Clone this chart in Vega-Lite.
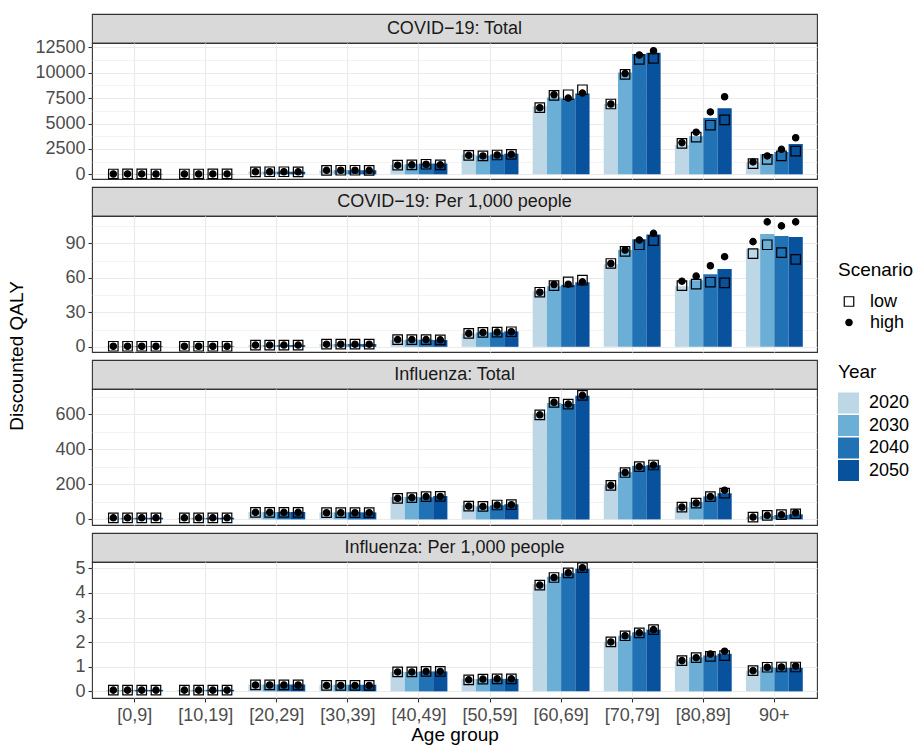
{
  "$schema": "https://vega.github.io/schema/vega-lite/v6.json",
  "padding": {"left": 0, "top": 13, "right": 0, "bottom": 0},
  "config": {
    "font": "Liberation Sans",
    "view": {"stroke": "#333333", "strokeWidth": 1.1},
    "axis": {"domain": false, "labelFontSize": 18, "labelColor": "#4d4d4d", "labelFont": "Liberation Sans", "tickColor": "#333333", "tickSize": 4, "tickWidth": 1.1, "gridColor": "#ebebeb", "gridWidth": 1.2, "titleFontSize": 19, "titleFontWeight": "normal", "titleColor": "#000000", "titleFont": "Liberation Sans", "labelPadding": 3},
    "legend": {"titleFontSize": 19, "titleFontWeight": "normal", "titleColor": "#000000", "labelFontSize": 18, "labelColor": "#000000", "padding": 0, "titleFont": "Liberation Sans", "labelFont": "Liberation Sans"},
    "text": {"font": "Liberation Sans"}
  },
  "datasets": {
    "d": [
      {"m":"ct","a":"[0,9]","y":"2020","v":35,"low":35,"high":35},
      {"m":"ct","a":"[0,9]","y":"2030","v":40,"low":40,"high":40},
      {"m":"ct","a":"[0,9]","y":"2040","v":40,"low":40,"high":40},
      {"m":"ct","a":"[0,9]","y":"2050","v":35,"low":35,"high":35},
      {"m":"ct","a":"[10,19]","y":"2020","v":35,"low":35,"high":35},
      {"m":"ct","a":"[10,19]","y":"2030","v":35,"low":35,"high":35},
      {"m":"ct","a":"[10,19]","y":"2040","v":40,"low":40,"high":40},
      {"m":"ct","a":"[10,19]","y":"2050","v":40,"low":40,"high":40},
      {"m":"ct","a":"[20,29]","y":"2020","v":260,"low":250,"high":250},
      {"m":"ct","a":"[20,29]","y":"2030","v":260,"low":255,"high":255},
      {"m":"ct","a":"[20,29]","y":"2040","v":260,"low":255,"high":255},
      {"m":"ct","a":"[20,29]","y":"2050","v":250,"low":245,"high":245},
      {"m":"ct","a":"[30,39]","y":"2020","v":400,"low":390,"high":390},
      {"m":"ct","a":"[30,39]","y":"2030","v":410,"low":400,"high":400},
      {"m":"ct","a":"[30,39]","y":"2040","v":410,"low":400,"high":400},
      {"m":"ct","a":"[30,39]","y":"2050","v":400,"low":395,"high":395},
      {"m":"ct","a":"[40,49]","y":"2020","v":930,"low":900,"high":900},
      {"m":"ct","a":"[40,49]","y":"2030","v":1000,"low":930,"high":930},
      {"m":"ct","a":"[40,49]","y":"2040","v":1060,"low":990,"high":990},
      {"m":"ct","a":"[40,49]","y":"2050","v":1060,"low":930,"high":930},
      {"m":"ct","a":"[50,59]","y":"2020","v":1940,"low":1870,"high":1870},
      {"m":"ct","a":"[50,59]","y":"2030","v":1840,"low":1810,"high":1810},
      {"m":"ct","a":"[50,59]","y":"2040","v":1940,"low":1900,"high":1900},
      {"m":"ct","a":"[50,59]","y":"2050","v":2030,"low":1970,"high":1970},
      {"m":"ct","a":"[60,69]","y":"2020","v":6690,"low":6560,"high":6560},
      {"m":"ct","a":"[60,69]","y":"2030","v":7570,"low":7760,"high":7830},
      {"m":"ct","a":"[60,69]","y":"2040","v":7470,"low":7830,"high":7500},
      {"m":"ct","a":"[60,69]","y":"2050","v":7960,"low":8320,"high":7990},
      {"m":"ct","a":"[70,79]","y":"2020","v":6920,"low":6920,"high":6920},
      {"m":"ct","a":"[70,79]","y":"2030","v":10010,"low":9830,"high":9910},
      {"m":"ct","a":"[70,79]","y":"2040","v":11830,"low":11310,"high":11740},
      {"m":"ct","a":"[70,79]","y":"2050","v":11960,"low":11410,"high":12160},
      {"m":"ct","a":"[80,89]","y":"2020","v":2880,"low":3040,"high":3110},
      {"m":"ct","a":"[80,89]","y":"2030","v":3760,"low":3660,"high":4150},
      {"m":"ct","a":"[80,89]","y":"2040","v":5550,"low":4830,"high":6140},
      {"m":"ct","a":"[80,89]","y":"2050","v":6490,"low":5350,"high":7630},
      {"m":"ct","a":"90+","y":"2020","v":1160,"low":1060,"high":1220},
      {"m":"ct","a":"90+","y":"2030","v":1970,"low":1480,"high":1810},
      {"m":"ct","a":"90+","y":"2040","v":2200,"low":1810,"high":2460},
      {"m":"ct","a":"90+","y":"2050","v":2980,"low":2290,"high":3600},

      {"m":"cp","a":"[0,9]","y":"2020","v":0.5,"low":0.5,"high":0.5},
      {"m":"cp","a":"[0,9]","y":"2030","v":0.5,"low":0.5,"high":0.5},
      {"m":"cp","a":"[0,9]","y":"2040","v":0.5,"low":0.5,"high":0.5},
      {"m":"cp","a":"[0,9]","y":"2050","v":0.5,"low":0.5,"high":0.5},
      {"m":"cp","a":"[10,19]","y":"2020","v":0.5,"low":0.5,"high":0.5},
      {"m":"cp","a":"[10,19]","y":"2030","v":0.5,"low":0.5,"high":0.5},
      {"m":"cp","a":"[10,19]","y":"2040","v":0.5,"low":0.5,"high":0.5},
      {"m":"cp","a":"[10,19]","y":"2050","v":0.5,"low":0.5,"high":0.5},
      {"m":"cp","a":"[20,29]","y":"2020","v":1.5,"low":1.5,"high":1.5},
      {"m":"cp","a":"[20,29]","y":"2030","v":1.5,"low":1.5,"high":1.5},
      {"m":"cp","a":"[20,29]","y":"2040","v":1.5,"low":1.5,"high":1.5},
      {"m":"cp","a":"[20,29]","y":"2050","v":1.5,"low":1.5,"high":1.5},
      {"m":"cp","a":"[30,39]","y":"2020","v":2.4,"low":2.3,"high":2.3},
      {"m":"cp","a":"[30,39]","y":"2030","v":2.4,"low":2.3,"high":2.3},
      {"m":"cp","a":"[30,39]","y":"2040","v":2.4,"low":2.3,"high":2.3},
      {"m":"cp","a":"[30,39]","y":"2050","v":2.4,"low":2.3,"high":2.3},
      {"m":"cp","a":"[40,49]","y":"2020","v":6.0,"low":6.3,"high":6.3},
      {"m":"cp","a":"[40,49]","y":"2030","v":6.2,"low":6.3,"high":6.3},
      {"m":"cp","a":"[40,49]","y":"2040","v":6.2,"low":6.3,"high":6.3},
      {"m":"cp","a":"[40,49]","y":"2050","v":5.9,"low":6.1,"high":6.1},
      {"m":"cp","a":"[50,59]","y":"2020","v":11.4,"low":11.7,"high":11.7},
      {"m":"cp","a":"[50,59]","y":"2030","v":12.5,"low":12.5,"high":12.5},
      {"m":"cp","a":"[50,59]","y":"2040","v":12.5,"low":12.8,"high":12.8},
      {"m":"cp","a":"[50,59]","y":"2050","v":13.4,"low":13.1,"high":13.1},
      {"m":"cp","a":"[60,69]","y":"2020","v":48.4,"low":47.5,"high":47.5},
      {"m":"cp","a":"[60,69]","y":"2030","v":52.7,"low":53.3,"high":54.2},
      {"m":"cp","a":"[60,69]","y":"2040","v":53.9,"low":56.5,"high":54.5},
      {"m":"cp","a":"[60,69]","y":"2050","v":56.2,"low":58.0,"high":56.5},
      {"m":"cp","a":"[70,79]","y":"2020","v":71.9,"low":72.5,"high":72.5},
      {"m":"cp","a":"[70,79]","y":"2030","v":84.2,"low":83.0,"high":84.2},
      {"m":"cp","a":"[70,79]","y":"2040","v":93.5,"low":88.8,"high":92.9},
      {"m":"cp","a":"[70,79]","y":"2050","v":97.6,"low":92.3,"high":98.7},
      {"m":"cp","a":"[80,89]","y":"2020","v":52.7,"low":53.3,"high":57.1},
      {"m":"cp","a":"[80,89]","y":"2030","v":58.0,"low":54.5,"high":61.5},
      {"m":"cp","a":"[80,89]","y":"2040","v":63.2,"low":56.2,"high":70.5},
      {"m":"cp","a":"[80,89]","y":"2050","v":67.6,"low":55.6,"high":78.4},
      {"m":"cp","a":"90+","y":"2020","v":85.1,"low":81.0,"high":91.5},
      {"m":"cp","a":"90+","y":"2030","v":98.2,"low":88.8,"high":108.7},
      {"m":"cp","a":"90+","y":"2040","v":96.4,"low":81.9,"high":105.2},
      {"m":"cp","a":"90+","y":"2050","v":95.5,"low":76.0,"high":108.7},

      {"m":"it","a":"[0,9]","y":"2020","v":9,"low":9,"high":9},
      {"m":"it","a":"[0,9]","y":"2030","v":9,"low":9,"high":9},
      {"m":"it","a":"[0,9]","y":"2040","v":9,"low":9,"high":9},
      {"m":"it","a":"[0,9]","y":"2050","v":9,"low":9,"high":9},
      {"m":"it","a":"[10,19]","y":"2020","v":9,"low":9,"high":9},
      {"m":"it","a":"[10,19]","y":"2030","v":9,"low":9,"high":9},
      {"m":"it","a":"[10,19]","y":"2040","v":9,"low":9,"high":9},
      {"m":"it","a":"[10,19]","y":"2050","v":9,"low":9,"high":9},
      {"m":"it","a":"[20,29]","y":"2020","v":42,"low":40,"high":40},
      {"m":"it","a":"[20,29]","y":"2030","v":42,"low":40,"high":40},
      {"m":"it","a":"[20,29]","y":"2040","v":42,"low":40,"high":40},
      {"m":"it","a":"[20,29]","y":"2050","v":42,"low":40,"high":40},
      {"m":"it","a":"[30,39]","y":"2020","v":40,"low":38,"high":38},
      {"m":"it","a":"[30,39]","y":"2030","v":40,"low":38,"high":38},
      {"m":"it","a":"[30,39]","y":"2040","v":40,"low":38,"high":38},
      {"m":"it","a":"[30,39]","y":"2050","v":40,"low":38,"high":38},
      {"m":"it","a":"[40,49]","y":"2020","v":128,"low":120,"high":120},
      {"m":"it","a":"[40,49]","y":"2030","v":128,"low":124,"high":124},
      {"m":"it","a":"[40,49]","y":"2040","v":126,"low":130,"high":130},
      {"m":"it","a":"[40,49]","y":"2050","v":133,"low":131,"high":131},
      {"m":"it","a":"[50,59]","y":"2020","v":80,"low":76,"high":76},
      {"m":"it","a":"[50,59]","y":"2030","v":74,"low":74,"high":74},
      {"m":"it","a":"[50,59]","y":"2040","v":80,"low":82,"high":82},
      {"m":"it","a":"[50,59]","y":"2050","v":86,"low":84,"high":84},
      {"m":"it","a":"[60,69]","y":"2020","v":604,"low":596,"high":596},
      {"m":"it","a":"[60,69]","y":"2030","v":663,"low":667,"high":667},
      {"m":"it","a":"[60,69]","y":"2040","v":657,"low":657,"high":657},
      {"m":"it","a":"[60,69]","y":"2050","v":705,"low":707,"high":707},
      {"m":"it","a":"[70,79]","y":"2020","v":194,"low":194,"high":194},
      {"m":"it","a":"[70,79]","y":"2030","v":269,"low":267,"high":267},
      {"m":"it","a":"[70,79]","y":"2040","v":305,"low":301,"high":301},
      {"m":"it","a":"[70,79]","y":"2050","v":309,"low":310,"high":310},
      {"m":"it","a":"[80,89]","y":"2020","v":70,"low":70,"high":70},
      {"m":"it","a":"[80,89]","y":"2030","v":99,"low":93,"high":93},
      {"m":"it","a":"[80,89]","y":"2040","v":131,"low":130,"high":130},
      {"m":"it","a":"[80,89]","y":"2050","v":149,"low":150,"high":166},
      {"m":"it","a":"90+","y":"2020","v":13,"low":13,"high":13},
      {"m":"it","a":"90+","y":"2030","v":19,"low":23,"high":23},
      {"m":"it","a":"90+","y":"2040","v":25,"low":27,"high":27},
      {"m":"it","a":"90+","y":"2050","v":29,"low":32,"high":38},

      {"m":"ip","a":"[0,9]","y":"2020","v":0.06,"low":0.05,"high":0.05},
      {"m":"ip","a":"[0,9]","y":"2030","v":0.06,"low":0.05,"high":0.05},
      {"m":"ip","a":"[0,9]","y":"2040","v":0.06,"low":0.05,"high":0.05},
      {"m":"ip","a":"[0,9]","y":"2050","v":0.06,"low":0.05,"high":0.05},
      {"m":"ip","a":"[10,19]","y":"2020","v":0.06,"low":0.05,"high":0.05},
      {"m":"ip","a":"[10,19]","y":"2030","v":0.06,"low":0.05,"high":0.05},
      {"m":"ip","a":"[10,19]","y":"2040","v":0.06,"low":0.05,"high":0.05},
      {"m":"ip","a":"[10,19]","y":"2050","v":0.06,"low":0.05,"high":0.05},
      {"m":"ip","a":"[20,29]","y":"2020","v":0.28,"low":0.26,"high":0.26},
      {"m":"ip","a":"[20,29]","y":"2030","v":0.28,"low":0.26,"high":0.26},
      {"m":"ip","a":"[20,29]","y":"2040","v":0.28,"low":0.26,"high":0.26},
      {"m":"ip","a":"[20,29]","y":"2050","v":0.28,"low":0.26,"high":0.26},
      {"m":"ip","a":"[30,39]","y":"2020","v":0.27,"low":0.24,"high":0.24},
      {"m":"ip","a":"[30,39]","y":"2030","v":0.27,"low":0.24,"high":0.24},
      {"m":"ip","a":"[30,39]","y":"2040","v":0.27,"low":0.24,"high":0.24},
      {"m":"ip","a":"[30,39]","y":"2050","v":0.27,"low":0.24,"high":0.24},
      {"m":"ip","a":"[40,49]","y":"2020","v":0.79,"low":0.79,"high":0.79},
      {"m":"ip","a":"[40,49]","y":"2030","v":0.79,"low":0.79,"high":0.79},
      {"m":"ip","a":"[40,49]","y":"2040","v":0.81,"low":0.81,"high":0.81},
      {"m":"ip","a":"[40,49]","y":"2050","v":0.81,"low":0.81,"high":0.81},
      {"m":"ip","a":"[50,59]","y":"2020","v":0.51,"low":0.47,"high":0.47},
      {"m":"ip","a":"[50,59]","y":"2030","v":0.50,"low":0.50,"high":0.50},
      {"m":"ip","a":"[50,59]","y":"2040","v":0.51,"low":0.51,"high":0.51},
      {"m":"ip","a":"[50,59]","y":"2050","v":0.51,"low":0.51,"high":0.51},
      {"m":"ip","a":"[60,69]","y":"2020","v":4.36,"low":4.32,"high":4.32},
      {"m":"ip","a":"[60,69]","y":"2030","v":4.66,"low":4.63,"high":4.63},
      {"m":"ip","a":"[60,69]","y":"2040","v":4.80,"low":4.82,"high":4.82},
      {"m":"ip","a":"[60,69]","y":"2050","v":4.99,"low":5.03,"high":5.03},
      {"m":"ip","a":"[70,79]","y":"2020","v":2.01,"low":2.01,"high":2.01},
      {"m":"ip","a":"[70,79]","y":"2030","v":2.26,"low":2.26,"high":2.26},
      {"m":"ip","a":"[70,79]","y":"2040","v":2.40,"low":2.38,"high":2.38},
      {"m":"ip","a":"[70,79]","y":"2050","v":2.51,"low":2.51,"high":2.51},
      {"m":"ip","a":"[80,89]","y":"2020","v":1.22,"low":1.25,"high":1.25},
      {"m":"ip","a":"[80,89]","y":"2030","v":1.38,"low":1.37,"high":1.37},
      {"m":"ip","a":"[80,89]","y":"2040","v":1.46,"low":1.42,"high":1.52},
      {"m":"ip","a":"[80,89]","y":"2050","v":1.53,"low":1.45,"high":1.63},
      {"m":"ip","a":"90+","y":"2020","v":0.84,"low":0.84,"high":0.84},
      {"m":"ip","a":"90+","y":"2030","v":0.98,"low":0.98,"high":0.98},
      {"m":"ip","a":"90+","y":"2040","v":0.96,"low":0.99,"high":0.99},
      {"m":"ip","a":"90+","y":"2050","v":0.96,"low":0.99,"high":1.03}
    ]
  },
  "spacing": 0,
  "resolve": {"scale": {"fill": "shared", "color": "shared", "shape": "shared", "size": "shared"}},
  "hconcat": [
    {
      "width": 34, "height": 684,
      "view": {"stroke": null},
      "data": {"values": [{"t": "Discounted QALY"}]},
      "mark": {"type": "text", "angle": 270, "fontSize": 19, "color": "#000000", "align": "center", "baseline": "middle"},
      "encoding": {"text": {"field": "t", "type": "nominal"}}
    },
    {
      "spacing": 0,
      "bounds": "flush",
      "resolve": {"scale": {"y": "independent", "x": "independent", "xOffset": "independent", "fill": "shared", "color": "shared", "shape": "shared", "size": "shared"}},
      "vconcat": [
        {
          "width": 725, "height": 29,
          "view": {"fill": "#d9d9d9", "stroke": "#333333", "strokeWidth": 1.1},
          "data": {"values": [{"t": "COVID−19: Total"}]},
          "mark": {"type": "text", "fontSize": 18, "color": "#1a1a1a"},
          "encoding": {"text": {"field": "t", "type": "nominal"}}
        },
        {
          "width": 725, "height": 136,
          "data": {"name": "d"},
          "transform": [{"filter": "datum.m === 'ct'"}],
          "encoding": {
            "x": {"field": "a", "type": "nominal", "sort": ["[0,9]","[10,19]","[20,29]","[30,39]","[40,49]","[50,59]","[60,69]","[70,79]","[80,89]","90+"],
              "scale": {"domain": ["[0,9]","[10,19]","[20,29]","[30,39]","[40,49]","[50,59]","[60,69]","[70,79]","[80,89]","90+"], "paddingInner": 0.2, "paddingOuter": 0.2},
              "axis": {"labels": false, "ticks": false, "tickSize": 0, "labelPadding": 0, "maxExtent": 0, "minExtent": 0, "title": null, "grid": true, "bandPosition": 0.5}},
            "xOffset": {"field": "y", "type": "nominal", "scale": {"domain": ["2020","2030","2040","2050"], "paddingInner": 0, "paddingOuter": 0}},
            "y": {"field": "v", "type": "quantitative",
              "scale": {"domain": [-460, 12920], "nice": false, "zero": false},
              "axis": {"title": null, "format": "d", "values": [0,1250,2500,3750,5000,6250,7500,8750,10000,11250,12500],
                "labelExpr": "datum.value % 2500 === 0 ? datum.label : ''",
                "tickOpacity": {"condition": {"test": "datum.value % 2500 === 0", "value": 1}, "value": 0},
                "gridWidth": {"condition": {"test": "datum.value % 2500 === 0", "value": 1.2}, "value": 0.6}}}
          },
          "layer": [
            {
              "mark": {"type": "bar"},
              "encoding": {"fill": {"field": "y", "type": "nominal", "scale": {"domain": ["2020","2030","2040","2050"], "range": ["#bdd7e7","#6baed6","#2171b5","#08519c"]},
                "legend": {"title": "Year", "orient": "none", "legendX": 838, "legendY": 349, "symbolType": "square", "symbolSize": 441, "symbolStrokeWidth": 0, "rowPadding": 1.5, "labelOffset": 10, "titlePadding": 10.5}}}
            },
            {
              "transform": [{"fold": ["low", "high"], "as": ["s", "v"]}],
              "mark": {"type": "point", "filled": true, "stroke": "black", "strokeWidth": 1.2, "opacity": 1},
              "encoding": {
                "color": {"field": "s", "type": "nominal", "scale": {"domain": ["low","high"], "range": ["transparent","black"]},
                  "legend": {"title": "Scenario", "orient": "none", "legendX": 838, "legendY": 247, "symbolStrokeColor": "black", "symbolStrokeWidth": 1.2, "symbolOffset": 2, "labelOffset": 12, "rowPadding": 3, "titlePadding": 12.5}},
                "shape": {"field": "s", "type": "nominal", "scale": {"domain": ["low","high"], "range": ["square","circle"]},
                  "legend": {"title": "Scenario", "orient": "none", "legendX": 838, "legendY": 247, "symbolStrokeColor": "black", "symbolStrokeWidth": 1.2, "symbolOffset": 2, "labelOffset": 12, "rowPadding": 3, "titlePadding": 12.5}},
                "size": {"field": "s", "type": "nominal", "scale": {"domain": ["low","high"], "range": [90, 40]},
                  "legend": {"title": "Scenario", "orient": "none", "legendX": 838, "legendY": 247, "symbolStrokeColor": "black", "symbolStrokeWidth": 1.2, "symbolOffset": 2, "labelOffset": 12, "rowPadding": 3, "titlePadding": 12.5}}
              }
            }
          ]
        },
        {
          "width": 725, "height": 8,
          "view": {"stroke": null},
          "data": {"values": [{"t": ""}]},
          "mark": {"type": "text"},
          "encoding": {"text": {"field": "t", "type": "nominal"}}
        },
        {
          "width": 725, "height": 29,
          "view": {"fill": "#d9d9d9", "stroke": "#333333", "strokeWidth": 1.1},
          "data": {"values": [{"t": "COVID−19: Per 1,000 people"}]},
          "mark": {"type": "text", "fontSize": 18, "color": "#1a1a1a"},
          "encoding": {"text": {"field": "t", "type": "nominal"}}
        },
        {
          "width": 725, "height": 136,
          "data": {"name": "d"},
          "transform": [{"filter": "datum.m === 'cp'"}],
          "encoding": {
            "x": {"field": "a", "type": "nominal", "sort": ["[0,9]","[10,19]","[20,29]","[30,39]","[40,49]","[50,59]","[60,69]","[70,79]","[80,89]","90+"],
              "scale": {"domain": ["[0,9]","[10,19]","[20,29]","[30,39]","[40,49]","[50,59]","[60,69]","[70,79]","[80,89]","90+"], "paddingInner": 0.2, "paddingOuter": 0.2},
              "axis": {"labels": false, "ticks": false, "tickSize": 0, "labelPadding": 0, "maxExtent": 0, "minExtent": 0, "title": null, "grid": true, "bandPosition": 0.5}},
            "xOffset": {"field": "y", "type": "nominal", "scale": {"domain": ["2020","2030","2040","2050"], "paddingInner": 0, "paddingOuter": 0}},
            "y": {"field": "v", "type": "quantitative",
              "scale": {"domain": [-4.5, 113.8], "nice": false, "zero": false},
              "axis": {"title": null, "format": "d", "values": [0,15,30,45,60,75,90,105],
                "labelExpr": "datum.value % 30 === 0 ? datum.label : ''",
                "tickOpacity": {"condition": {"test": "datum.value % 30 === 0", "value": 1}, "value": 0},
                "gridWidth": {"condition": {"test": "datum.value % 30 === 0", "value": 1.2}, "value": 0.6}}}
          },
          "layer": [
            {
              "mark": {"type": "bar"},
              "encoding": {"fill": {"field": "y", "type": "nominal", "scale": {"domain": ["2020","2030","2040","2050"], "range": ["#bdd7e7","#6baed6","#2171b5","#08519c"]}}}
            },
            {
              "transform": [{"fold": ["low", "high"], "as": ["s", "v"]}],
              "mark": {"type": "point", "filled": true, "stroke": "black", "strokeWidth": 1.2, "opacity": 1},
              "encoding": {
                "color": {"field": "s", "type": "nominal", "scale": {"domain": ["low","high"], "range": ["transparent","black"]}},
                "shape": {"field": "s", "type": "nominal", "scale": {"domain": ["low","high"], "range": ["square","circle"]}},
                "size": {"field": "s", "type": "nominal", "scale": {"domain": ["low","high"], "range": [90, 40]}}
              }
            }
          ]
        },
        {
          "width": 725, "height": 8,
          "view": {"stroke": null},
          "data": {"values": [{"t": ""}]},
          "mark": {"type": "text"},
          "encoding": {"text": {"field": "t", "type": "nominal"}}
        },
        {
          "width": 725, "height": 29,
          "view": {"fill": "#d9d9d9", "stroke": "#333333", "strokeWidth": 1.1},
          "data": {"values": [{"t": "Influenza: Total"}]},
          "mark": {"type": "text", "fontSize": 18, "color": "#1a1a1a"},
          "encoding": {"text": {"field": "t", "type": "nominal"}}
        },
        {
          "width": 725, "height": 136,
          "data": {"name": "d"},
          "transform": [{"filter": "datum.m === 'it'"}],
          "encoding": {
            "x": {"field": "a", "type": "nominal", "sort": ["[0,9]","[10,19]","[20,29]","[30,39]","[40,49]","[50,59]","[60,69]","[70,79]","[80,89]","90+"],
              "scale": {"domain": ["[0,9]","[10,19]","[20,29]","[30,39]","[40,49]","[50,59]","[60,69]","[70,79]","[80,89]","90+"], "paddingInner": 0.2, "paddingOuter": 0.2},
              "axis": {"labels": false, "ticks": false, "tickSize": 0, "labelPadding": 0, "maxExtent": 0, "minExtent": 0, "title": null, "grid": true, "bandPosition": 0.5}},
            "xOffset": {"field": "y", "type": "nominal", "scale": {"domain": ["2020","2030","2040","2050"], "paddingInner": 0, "paddingOuter": 0}},
            "y": {"field": "v", "type": "quantitative",
              "scale": {"domain": [-32, 743], "nice": false, "zero": false},
              "axis": {"title": null, "format": "d", "values": [0,100,200,300,400,500,600,700],
                "labelExpr": "datum.value % 200 === 0 ? datum.label : ''",
                "tickOpacity": {"condition": {"test": "datum.value % 200 === 0", "value": 1}, "value": 0},
                "gridWidth": {"condition": {"test": "datum.value % 200 === 0", "value": 1.2}, "value": 0.6}}}
          },
          "layer": [
            {
              "mark": {"type": "bar"},
              "encoding": {"fill": {"field": "y", "type": "nominal", "scale": {"domain": ["2020","2030","2040","2050"], "range": ["#bdd7e7","#6baed6","#2171b5","#08519c"]}}}
            },
            {
              "transform": [{"fold": ["low", "high"], "as": ["s", "v"]}],
              "mark": {"type": "point", "filled": true, "stroke": "black", "strokeWidth": 1.2, "opacity": 1},
              "encoding": {
                "color": {"field": "s", "type": "nominal", "scale": {"domain": ["low","high"], "range": ["transparent","black"]}},
                "shape": {"field": "s", "type": "nominal", "scale": {"domain": ["low","high"], "range": ["square","circle"]}},
                "size": {"field": "s", "type": "nominal", "scale": {"domain": ["low","high"], "range": [90, 40]}}
              }
            }
          ]
        },
        {
          "width": 725, "height": 8,
          "view": {"stroke": null},
          "data": {"values": [{"t": ""}]},
          "mark": {"type": "text"},
          "encoding": {"text": {"field": "t", "type": "nominal"}}
        },
        {
          "width": 725, "height": 29,
          "view": {"fill": "#d9d9d9", "stroke": "#333333", "strokeWidth": 1.1},
          "data": {"values": [{"t": "Influenza: Per 1,000 people"}]},
          "mark": {"type": "text", "fontSize": 18, "color": "#1a1a1a"},
          "encoding": {"text": {"field": "t", "type": "nominal"}}
        },
        {
          "width": 725, "height": 136,
          "data": {"name": "d"},
          "transform": [{"filter": "datum.m === 'ip'"}],
          "encoding": {
            "x": {"field": "a", "type": "nominal", "sort": ["[0,9]","[10,19]","[20,29]","[30,39]","[40,49]","[50,59]","[60,69]","[70,79]","[80,89]","90+"],
              "scale": {"domain": ["[0,9]","[10,19]","[20,29]","[30,39]","[40,49]","[50,59]","[60,69]","[70,79]","[80,89]","90+"], "paddingInner": 0.2, "paddingOuter": 0.2},
              "axis": {"title": "Age group", "grid": true, "bandPosition": 0.5, "labelAngle": 0, "labelPadding": 4, "titlePadding": 1}},
            "xOffset": {"field": "y", "type": "nominal", "scale": {"domain": ["2020","2030","2040","2050"], "paddingInner": 0, "paddingOuter": 0}},
            "y": {"field": "v", "type": "quantitative",
              "scale": {"domain": [-0.27, 5.26], "nice": false, "zero": false},
              "axis": {"title": null, "format": "d", "values": [0,0.5,1,1.5,2,2.5,3,3.5,4,4.5,5],
                "labelExpr": "datum.value % 1 === 0 ? datum.label : ''",
                "tickOpacity": {"condition": {"test": "datum.value % 1 === 0", "value": 1}, "value": 0},
                "gridWidth": {"condition": {"test": "datum.value % 1 === 0", "value": 1.2}, "value": 0.6}}}
          },
          "layer": [
            {
              "mark": {"type": "bar"},
              "encoding": {"fill": {"field": "y", "type": "nominal", "scale": {"domain": ["2020","2030","2040","2050"], "range": ["#bdd7e7","#6baed6","#2171b5","#08519c"]}}}
            },
            {
              "transform": [{"fold": ["low", "high"], "as": ["s", "v"]}],
              "mark": {"type": "point", "filled": true, "stroke": "black", "strokeWidth": 1.2, "opacity": 1},
              "encoding": {
                "color": {"field": "s", "type": "nominal", "scale": {"domain": ["low","high"], "range": ["transparent","black"]}},
                "shape": {"field": "s", "type": "nominal", "scale": {"domain": ["low","high"], "range": ["square","circle"]}},
                "size": {"field": "s", "type": "nominal", "scale": {"domain": ["low","high"], "range": [90, 40]}}
              }
            }
          ]
        }
      ]
    }
  ]
}
